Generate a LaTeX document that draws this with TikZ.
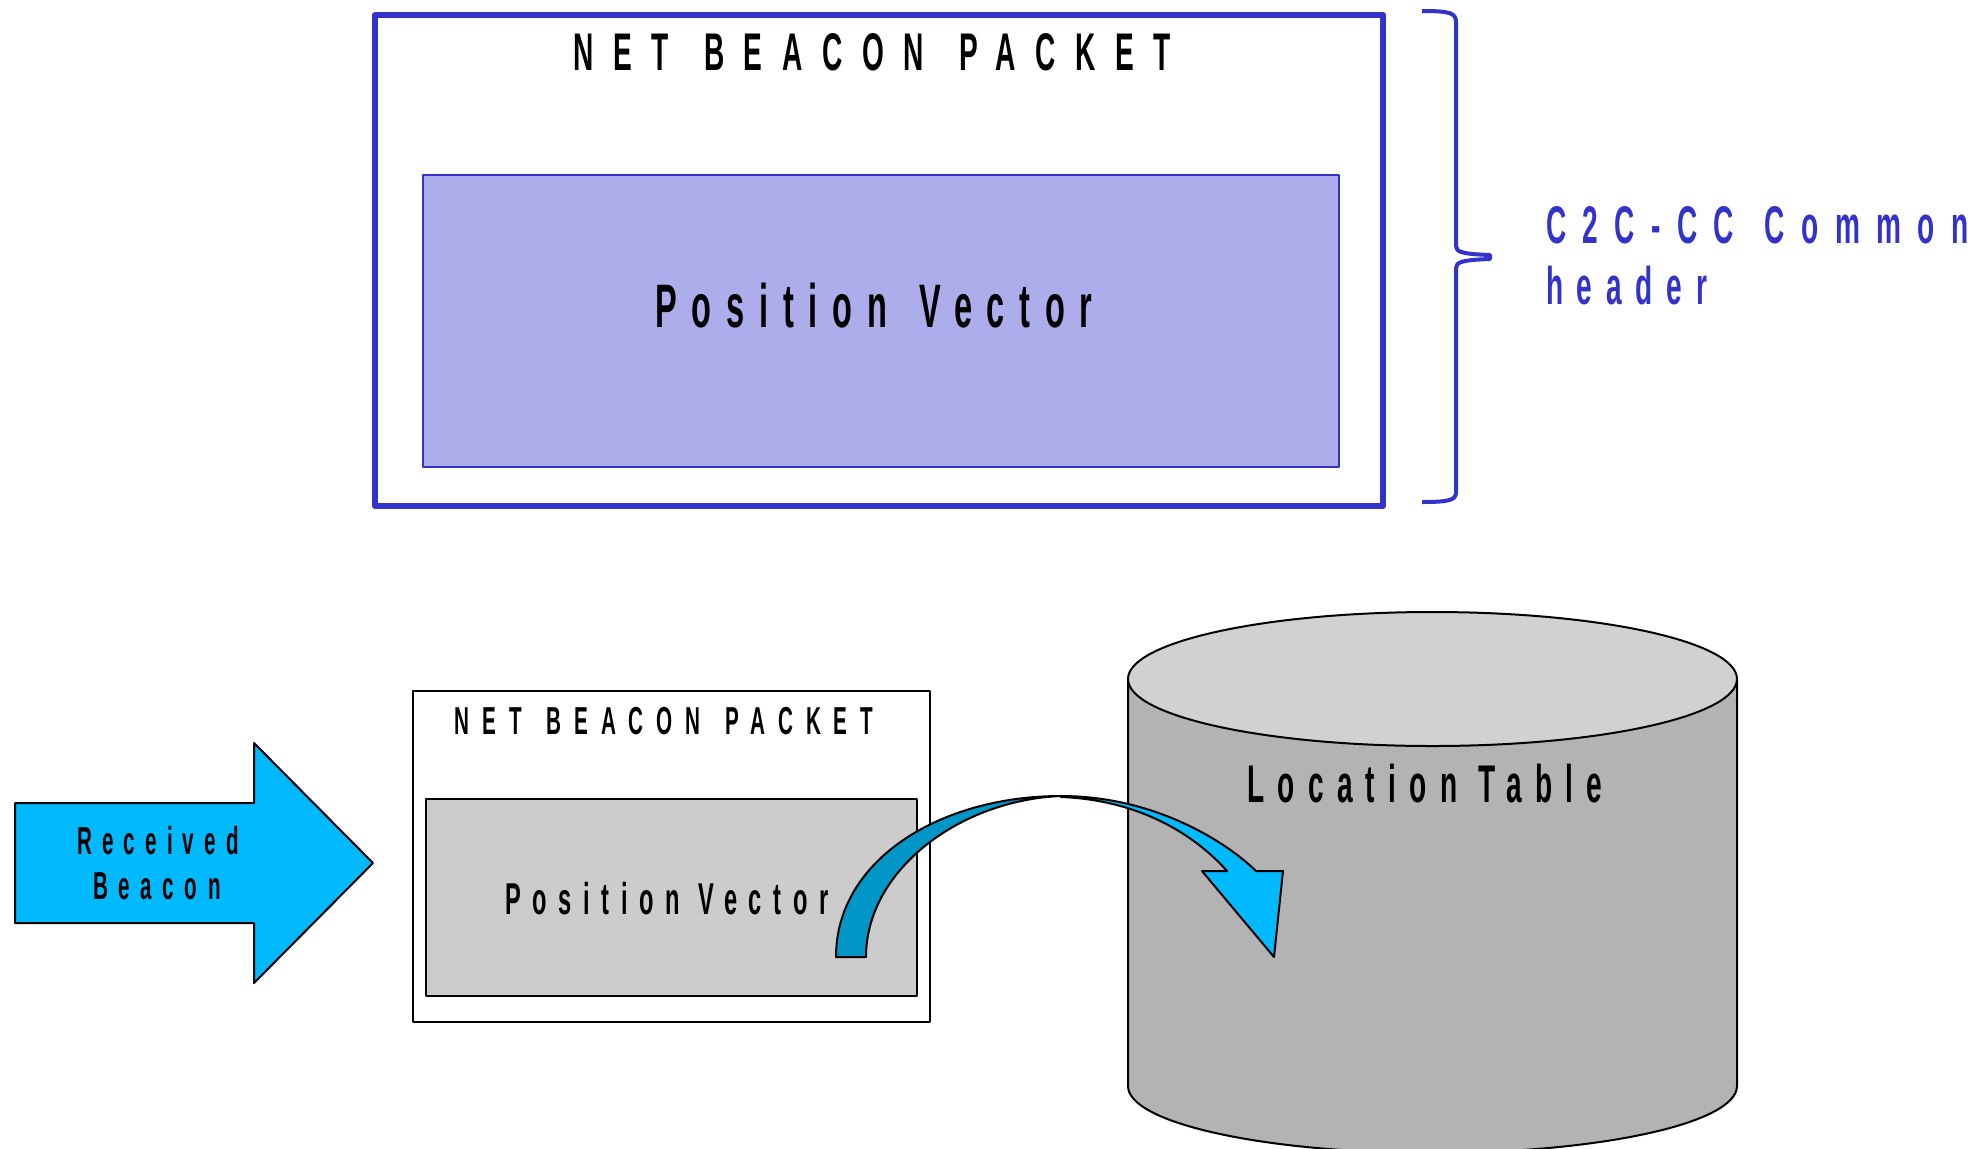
\documentclass[tikz,border=0pt]{standalone}
\usepackage{fontspec}
\newfontfamily\cond[FakeStretch=0.53]{Liberation Sans}
% condensed bold label with tracking: size, tracking (percent of size), extra word space (em), text
\newcommand\tracked[4]{{\fontsize{#1}{#1}\selectfont\cond\bfseries\addfontfeature{LetterSpace=#2}%
  \spaceskip=\dimexpr\fontdimen2\font+#3em\relax #4}}

\definecolor{hdrblue}{RGB}{51,51,204}
\definecolor{pvfill}{RGB}{173,173,235}
\definecolor{beaconfill}{RGB}{0,185,255}
\definecolor{darkband}{RGB}{0,150,200}
\definecolor{pktgray}{RGB}{204,204,204}
\definecolor{cylbody}{RGB}{179,179,179}
\definecolor{cyltop}{RGB}{209,209,209}

\tikzset{
  lbl/.style={inner sep=0pt, outer sep=0pt},
  thinline/.style={line width=1pt, draw=black},
}

\begin{document}
\begin{tikzpicture}[x=0.5pt, y=-0.5pt, line join=round]
\useasboundingbox (0,0) rectangle (1987,1148);
\fill[white] (0,0) rectangle (1987,1148);

% ---- header packet ----
\draw[hdrblue, line width=3pt] (375,15) rectangle (1383,506);
\draw[hdrblue, line width=1pt, fill=pvfill] (423,175) rectangle (1339,467);
\node[lbl, anchor=base] (toptitle) at (872,70) {\tracked{26.5pt}{37}{0.15}{NET BEACON PACKET}};
\node[lbl, anchor=base] (toppv) at (874,327) {\tracked{30.7pt}{24}{0.14}{Position Vector}};

% brace
\draw[hdrblue, line width=2pt]
  (1422,11) .. controls (1450,11) and (1456,13) .. (1456,22)
  -- (1456,246) .. controls (1456,252) and (1462,254) .. (1490,255)
  -- (1490,259) .. controls (1462,260) and (1456,262) .. (1456,268)
  -- (1456,492) .. controls (1456,500) and (1450,502) .. (1422,502);
\node[lbl, anchor=base west, text=hdrblue] (c2c) at (1546,243) {\tracked{26.5pt}{31}{0.12}{C2C-CC Common}};
\node[lbl, anchor=base west, text=hdrblue] (hdr) at (1546,304) {\tracked{26.5pt}{26}{0}{header}};

% ---- received beacon ----
\draw[thinline, fill=beaconfill] (15,803) -- (254,803) -- (254,743) -- (373,863)
  -- (254,983) -- (254,923) -- (15,923) -- cycle;
\node[lbl, anchor=base] (recv) at (158,854) {\tracked{19.5pt}{26}{0}{Received}};
\node[lbl, anchor=base] (beac) at (157,899) {\tracked{19.5pt}{27}{0}{Beacon}};

% ---- received packet ----
\draw[thinline, fill=white] (413,691) rectangle (930,1022);
\draw[thinline, fill=pktgray] (426,799) rectangle (917,996);
\node[lbl, anchor=base] (smalltitle) at (664,734) {\tracked{19.5pt}{33}{0.16}{NET BEACON PACKET}};
\node[lbl, anchor=base] (smallpv) at (667,914) {\tracked{22.3pt}{26}{0}{Position Vector}};

% ---- location table ----
\draw[thinline, fill=cylbody] (1128,679) -- (1128,1086)
  arc[start angle=180, end angle=0, x radius=304.5, y radius=67]
  -- (1737,679) -- cycle;
\draw[thinline, fill=cyltop] (1432.5,679) ellipse [x radius=304.5, y radius=67];
\node[lbl, anchor=base] (loctab) at (1425,802) {\tracked{26.5pt}{25}{0}{Location Table}};

% ---- curved transfer arrow ----
\draw[thinline, fill=darkband]
  (836,957) .. controls (836,860) and (940,796) .. (1061,796)
  .. controls (960,800) and (866,870) .. (866,957) -- cycle;
\draw[thinline, fill=beaconfill]
  (1061,796) .. controls (1150,796) and (1222,838) .. (1256,871)
  -- (1283,871) -- (1274,957) -- (1202,871) -- (1227,871)
  .. controls (1195,835) and (1140,800) .. (1061,797) -- cycle;

\end{tikzpicture}
\end{document}
